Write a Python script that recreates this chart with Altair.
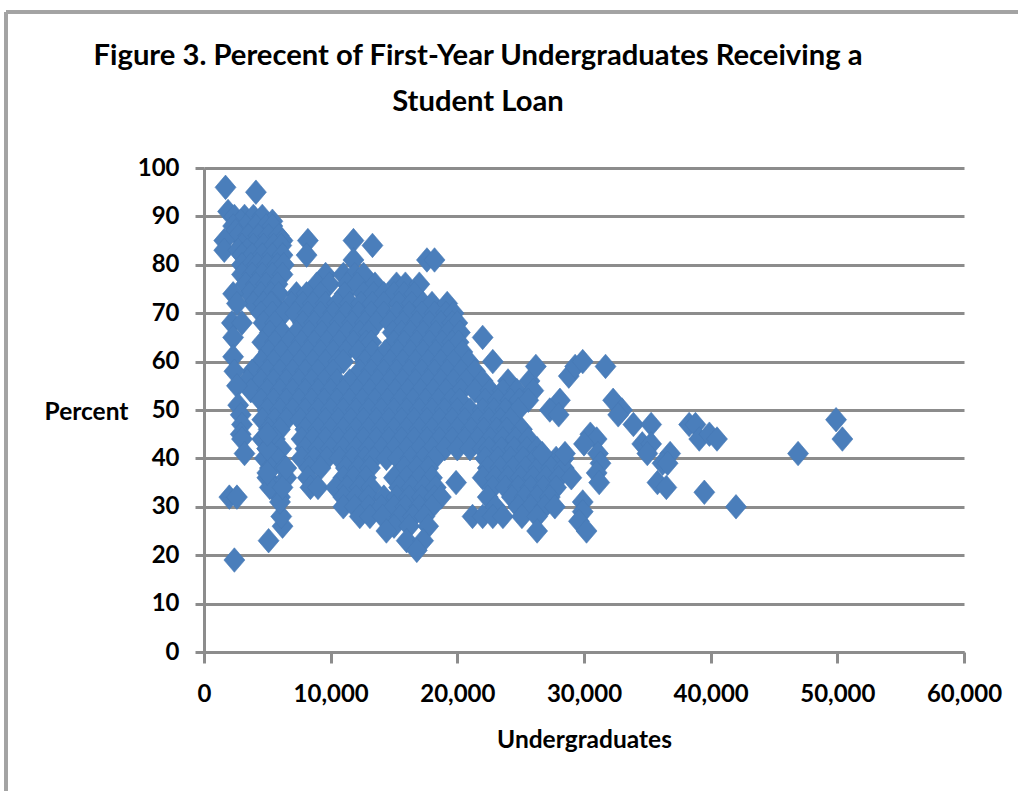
import altair as alt
import pandas as pd

# Undergraduate enrolment (thousands) and loan rate, grouped by percent band.
upper_percent = [96, 95, 91, 90, 89, 88, 87, 86, 85, 84, 83, 82, 80, 78, 76, 74, 72]
upper_undergrads = [
    [1.7], [4.1], [1.9], [2.4, 3.2, 3.9, 4.6], [2.9, 5.4], [2.3, 3.3, 4.1, 4.9, 5.4], [2.5], [2.7, 3.5, 4.3, 5.1, 5.9],
    [1.6, 6.2], [3.0, 3.9, 4.7, 5.5, 6.1], [1.6, 2.7, 3.4], [3.0, 3.8, 4.6, 5.4, 6.2], [3.0, 3.7, 4.2, 5.0, 5.8, 6.3],
    [3.0, 3.8, 4.6, 5.4, 6.2], [3.3, 4.1, 4.9, 5.8], [3.6, 4.5, 5.3, 5.9], [3.9, 4.7, 5.4],
]

strip_percent = [74, 72, 68, 68, 65, 61, 58, 55, 51, 49, 47, 45, 44, 41, 32, 32, 19, 23, 26, 28, 31, 34, 34, 37, 38, 42, 45]
strip_undergrads = [2.3, 2.6, 2.2, 3.0, 2.3, 2.3, 2.4, 2.6, 2.7, 2.9, 3.0, 2.9, 3.0, 3.2, 2.0, 2.6, 2.4, 5.1, 6.2, 6.1, 6.0, 5.2, 6.2, 5.0, 6.5, 5.0, 5.0]

core_percent = [85, 82, 85, 84, 81, 81, 78, 76, 74, 72, 70, 68, 66, 64, 62, 60, 58, 56, 54, 52, 50, 48, 46, 44, 42, 40, 38, 36, 34, 32, 30, 28, 26, 25, 23, 21]
core_undergrads = [
    [8.2], [8.1], [11.8], [13.3], [11.8, 17.6, 18.2], [],
    [9.6, 11.0, 11.9, 12.6],
    [8.9, 9.9, 11.3, 12.1, 13.5, 15.2, 15.9, 17.0],
    [7.3, 8.1, 9.2, 11.1, 12.6, 13.4, 14.2, 15.0, 15.8, 16.6],
    [5.3, 6.9, 7.8, 8.6, 9.6, 10.5, 11.5, 12.4, 13.3, 14.2, 15.4, 16.4, 17.3, 18.0, 19.2],
    [4.5, 5.4, 6.3, 7.2, 8.2, 9.2, 10.2, 11.2, 12.2, 13.2, 14.2, 15.2, 16.2, 17.2, 18.2, 19.1, 19.7],
    [4.7, 5.6, 7.8, 8.7, 9.7, 10.7, 11.7, 12.7, 13.6, 14.7, 15.7, 16.8, 17.8, 18.7, 19.6, 20.0],
    [5.2, 6.2, 7.3, 8.3, 9.3, 10.3, 11.3, 12.3, 13.0, 14.9, 15.6, 16.3, 17.3, 18.3, 19.3, 20.2],
    [4.6, 5.6, 6.7, 7.7, 8.7, 9.7, 10.7, 11.8, 12.8, 13.2, 15.0, 15.8, 16.8, 17.8, 18.8, 19.6, 20.1],
    [5.1, 6.1, 7.2, 8.2, 9.2, 10.2, 11.2, 12.2, 13.3, 14.3, 15.3, 16.3, 17.3, 18.3, 19.3, 20.4],
    [4.5, 5.5, 6.6, 7.6, 8.6, 9.6, 10.6, 11.0, 12.7, 13.7, 14.7, 15.7, 16.7, 17.7, 18.7, 19.7, 20.9],
    [3.8, 5.0, 6.0, 7.0, 8.0, 9.0, 10.2, 12.3, 13.2, 14.2, 15.2, 16.2, 17.2, 18.2, 19.2, 20.3, 21.4],
    [3.4, 4.5, 5.5, 6.5, 7.5, 8.5, 9.5, 10.5, 11.5, 12.7, 13.7, 14.7, 15.7, 16.7, 17.7, 18.7, 19.7, 20.7, 22.0, 24.0, 25.7],
    [3.7, 5.0, 6.0, 7.0, 8.0, 9.0, 10.0, 11.0, 12.1, 13.1, 14.1, 15.1, 16.1, 17.1, 18.1, 19.1, 20.3, 21.4, 22.6, 23.6, 24.7, 26.0],
    [4.5, 5.5, 6.5, 7.5, 8.5, 9.5, 10.5, 11.5, 12.5, 13.5, 14.5, 15.5, 16.5, 17.5, 18.5, 19.5, 20.2, 22.2, 23.2, 24.2, 24.9, 25.6],
    [5.0, 6.0, 7.0, 8.0, 9.0, 10.0, 11.0, 12.0, 13.0, 14.0, 15.0, 16.0, 17.0, 18.0, 19.0, 20.0, 21.0, 22.0, 22.9, 23.8, 24.8],
    [4.6, 5.6, 6.5, 7.6, 8.6, 9.6, 10.6, 11.6, 12.6, 13.6, 14.6, 15.6, 16.6, 17.6, 18.6, 19.6, 20.6, 21.6, 22.5, 23.4, 24.2],
    [5.1, 6.0, 8.0, 9.0, 10.0, 11.0, 12.0, 13.0, 14.0, 15.0, 16.0, 17.0, 18.0, 19.0, 20.0, 21.1, 22.1, 23.1, 23.9, 25.1],
    [4.6, 5.6, 7.7, 8.6, 9.6, 10.6, 11.6, 12.6, 13.6, 14.6, 15.6, 16.6, 17.6, 18.6, 19.6, 20.6, 21.6, 22.6, 23.6, 24.6, 25.6],
    [5.0, 6.1, 8.0, 9.0, 10.0, 11.0, 12.0, 13.0, 14.0, 15.0, 16.0, 17.0, 18.0, 19.0, 20.0, 21.0, 22.0, 22.5, 23.5, 24.5, 25.5, 26.3],
    [4.8, 5.8, 7.7, 8.7, 9.7, 10.7, 11.7, 12.7, 13.4, 14.4, 15.3, 16.3, 17.3, 18.2, 22.2, 23.2, 24.2, 25.2, 26.2, 26.9, 27.8, 28.4],
    [5.2, 6.3, 8.3, 9.2, 11.2, 12.2, 13.1, 15.8, 16.8, 17.7, 22.4, 23.4, 24.4, 25.4, 26.4, 27.4, 28.4],
    [5.0, 6.5, 8.2, 11.0, 11.8, 12.8, 15.0, 16.0, 17.0, 18.0, 22.0, 23.0, 24.0, 25.0, 26.0, 27.0, 28.0, 29.0],
    [5.5, 8.4, 9.0, 10.4, 11.3, 12.3, 13.2, 15.4, 16.4, 17.4, 18.3, 22.8, 23.8, 24.8, 25.8, 26.8, 27.8],
    [6.0, 11.0, 12.0, 13.0, 14.2, 15.2, 16.2, 17.2, 18.2, 18.7, 22.4, 24.3, 25.3, 26.3, 27.3],
    [11.0, 11.9, 13.0, 14.0, 15.0, 15.9, 17.0, 18.0, 23.0, 24.8, 25.8, 26.9, 27.7],
    [12.3, 13.1, 14.1, 15.5, 16.5, 17.4, 21.2, 22.0, 22.8, 23.6, 25.1, 26.3],
    [15.0, 16.2, 17.7], [14.4, 26.3], [16.0, 17.3], [16.8],
]

outer_percent = [59, 57, 59, 60, 59, 52, 50, 49, 47, 47, 47, 47, 44, 45, 44, 48, 44, 41, 33, 30, 43, 43, 41, 41, 39, 39, 35, 34, 52, 50, 49, 31, 29, 27, 25, 45, 44, 43, 41, 39, 37, 35, 41, 41, 65, 60, 35]
outer_undergrads = [26.2, 28.8, 29.3, 29.9, 31.7, 32.3, 33.0, 32.7, 33.9, 35.3, 38.3, 38.8, 39.1, 39.9, 40.5, 49.9, 50.4, 46.9, 39.5, 42.0, 34.6, 35.3, 35.0, 36.8, 36.2, 36.6, 35.8, 36.5, 28.1, 27.3, 28.0, 29.9, 29.9, 29.6, 30.2, 30.5, 31.0, 30.0, 31.1, 31.3, 31.0, 31.2, 28.5, 26.7, 22.0, 22.8, 19.9]

tick_x = [0, 10000, 20000, 30000, 40000, 50000, 60000]
tick_y = [0, 10, 20, 30, 40, 50, 60, 70, 80, 90, 100]
title_first = "Figure 3. Perecent of First-Year Undergraduates Receiving a"
title_second = "Student Loan"

pairs = []
for pct, xs in zip(upper_percent + core_percent, upper_undergrads + core_undergrads):
    pairs += [(x * 1000, pct) for x in xs]
pairs += [(x * 1000, p) for x, p in zip(strip_undergrads + outer_undergrads, strip_percent + outer_percent)]
data = pd.DataFrame(pairs, columns=["Undergraduates", "Percent"])

FONT = "Lato"
GRAY = "#8c8c8c"
FRAME = "#a3a3a3"
DIAMOND = "M0,-1.17L1,0L0,1.17L-1,0Z"

points = alt.Chart(data).mark_point(
    filled=True, opacity=1, shape=DIAMOND, size=440, color="#4a7ebb", stroke="#4779b6", strokeWidth=0.6, clip=False
).encode(
    x=alt.X(
        "Undergraduates:Q",
        scale=alt.Scale(domain=[0, 60000], nice=False),
        axis=alt.Axis(
            values=tick_x, format=",d", grid=False, domainColor=GRAY, domainWidth=3, tickColor=GRAY, tickWidth=3,
            tickSize=11, labelFont=FONT, labelFontWeight="bold", labelFontSize=24, labelColor="#000", labelPadding=19,
            labelFlush=False, labelOverlap=False,
            title="Undergraduates", titleFont=FONT, titleFontWeight="bold", titleFontSize=24.5, titleColor="#000", titlePadding=22,
        ),
    ),
    y=alt.Y(
        "Percent:Q",
        scale=alt.Scale(domain=[0, 100], nice=False),
        axis=alt.Axis(
            values=tick_y, grid=True, gridColor=GRAY, gridWidth=3, domainColor=GRAY, domainWidth=3, tickColor=GRAY, tickWidth=3,
            tickSize=9, labelFont=FONT, labelFontWeight="bold", labelFontSize=24, labelColor="#000", labelPadding=16,
            labelFlush=False, labelOverlap=False,
            title="Percent", titleAngle=0, titleFont=FONT, titleFontWeight="bold", titleFontSize=24.5, titleColor="#000",
            titleAlign="center", titleBaseline="middle", titleX=-118, titleY=244,
        ),
    ),
)

# Outer chart frame: only the top and left edges fall inside the page.
frame_top = alt.Chart(data).mark_rule(color=FRAME, strokeWidth=3, clip=False).encode(
    x=alt.value(-198), x2=alt.value(814), y=alt.value(-156)
)
frame_left = alt.Chart(data).mark_rule(color=FRAME, strokeWidth=3, clip=False).encode(
    x=alt.value(-198), y=alt.value(-156), y2=alt.value(623)
)

# Two-line heading, centred over the chart frame rather than the plot area.
heading_first = alt.Chart(pd.DataFrame({"line": [title_first]})).mark_text(
    font=FONT, fontWeight="bold", fontSize=29.2, color="#000", align="center", baseline="middle"
).encode(text="line:N", x=alt.value(274), y=alt.value(-112))
heading_second = alt.Chart(pd.DataFrame({"line": [title_second]})).mark_text(
    font=FONT, fontWeight="bold", fontSize=29.2, color="#000", align="center", baseline="middle"
).encode(text="line:N", x=alt.value(274), y=alt.value(-66))

chart = (
    alt.layer(frame_top, frame_left, heading_first, heading_second, points)
    .properties(
        width=760,
        height=484,
        padding={"left": 204, "top": 168, "right": 54, "bottom": 139},
        autosize=alt.AutoSizeParams(type="none"),
    )
    .configure_view(stroke=None)
)

chart.save("out.html", embed_options={"renderer": "svg", "actions": False})
